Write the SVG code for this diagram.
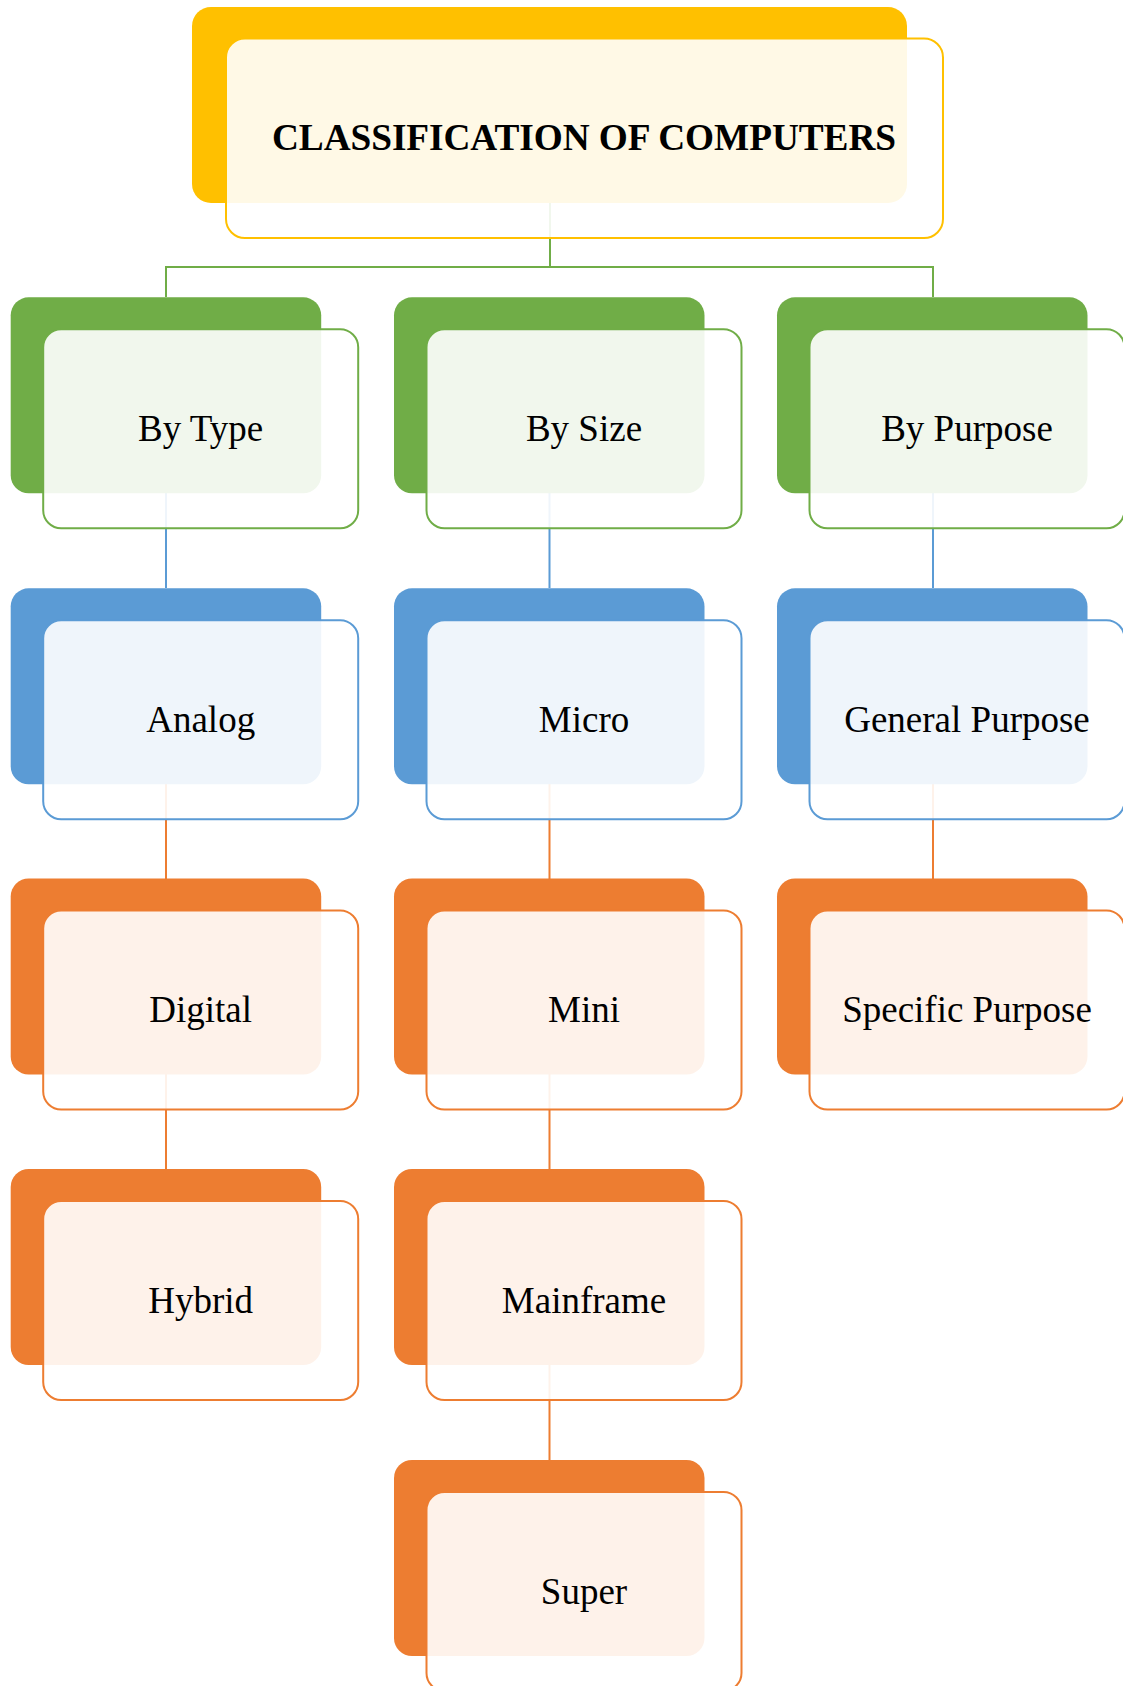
<svg xmlns="http://www.w3.org/2000/svg" width="1123" height="1686" viewBox="0 0 1123 1686">
<style>
.bk{stroke:none}
.fr{fill:#FFFFFF;fill-opacity:0.9;stroke-width:2}
.t{font-family:"Liberation Serif","Times New Roman",serif;font-size:37px;fill:#000;text-anchor:middle}
.tb{font-weight:bold;font-size:37.3px}
.cn{fill:none;stroke-width:2}
.gold .bk{fill:#FFC000}.gold .fr{stroke:#FFC000}
.green .bk{fill:#70AD47}.green .fr{stroke:#70AD47}
.blue .bk{fill:#5B9BD5}.blue .fr{stroke:#5B9BD5}
.orange .bk{fill:#ED7D31}.orange .fr{stroke:#ED7D31}
</style>
<rect width="1123" height="1686" fill="#FFFFFF"/>
<g id="connectors">
<path class="cn" stroke="#70AD47" d="M550,150 V267 M166,297 V267 H933 V297"/>
<path class="cn" stroke="#5B9BD5" d="M166,400 V588 M549.5,400 V588 M933,400 V588"/>
<path class="cn" stroke="#ED7D31" d="M166,690 V879 M549.5,690 V879 M933,690 V879"/>
<path class="cn" stroke="#ED7D31" d="M166,980 V1169 M549.5,980 V1169"/>
<path class="cn" stroke="#ED7D31" d="M549.5,1270 V1460"/>
</g>
<g id="title" class="gold">
<rect class="bk" x="192" y="7" width="715" height="196" rx="19"/>
<rect class="fr" x="226" y="38.5" width="717" height="199.5" rx="19"/>
<text class="t tb" x="584" y="150" textLength="624">CLASSIFICATION OF COMPUTERS</text>
</g>
<g id="by-type" class="green" transform="translate(10.7,297.3)">
<rect class="bk" width="310.5" height="196" rx="18"/><rect class="fr" x="32.5" y="32" width="315" height="199" rx="18"/>
<text class="t" x="190" y="144">By Type</text></g>
<g id="by-size" class="green" transform="translate(394,297.3)">
<rect class="bk" width="310.5" height="196" rx="18"/><rect class="fr" x="32.5" y="32" width="315" height="199" rx="18"/>
<text class="t" x="190" y="144">By Size</text></g>
<g id="by-purpose" class="green" transform="translate(777,297.3)">
<rect class="bk" width="310.5" height="196" rx="18"/><rect class="fr" x="32.5" y="32" width="315" height="199" rx="18"/>
<text class="t" x="190" y="144">By Purpose</text></g>
<g id="analog" class="blue" transform="translate(10.7,588.3)">
<rect class="bk" width="310.5" height="196" rx="18"/><rect class="fr" x="32.5" y="32" width="315" height="199" rx="18"/>
<text class="t" x="190" y="144">Analog</text></g>
<g id="micro" class="blue" transform="translate(394,588.3)">
<rect class="bk" width="310.5" height="196" rx="18"/><rect class="fr" x="32.5" y="32" width="315" height="199" rx="18"/>
<text class="t" x="190" y="144">Micro</text></g>
<g id="general-purpose" class="blue" transform="translate(777,588.3)">
<rect class="bk" width="310.5" height="196" rx="18"/><rect class="fr" x="32.5" y="32" width="315" height="199" rx="18"/>
<text class="t" x="190" y="144">General Purpose</text></g>
<g id="digital" class="orange" transform="translate(10.7,878.5)">
<rect class="bk" width="310.5" height="196" rx="18"/><rect class="fr" x="32.5" y="32" width="315" height="199" rx="18"/>
<text class="t" x="190" y="143.5">Digital</text></g>
<g id="mini" class="orange" transform="translate(394,878.5)">
<rect class="bk" width="310.5" height="196" rx="18"/><rect class="fr" x="32.5" y="32" width="315" height="199" rx="18"/>
<text class="t" x="190" y="143.5">Mini</text></g>
<g id="specific-purpose" class="orange" transform="translate(777,878.5)">
<rect class="bk" width="310.5" height="196" rx="18"/><rect class="fr" x="32.5" y="32" width="315" height="199" rx="18"/>
<text class="t" x="190" y="143.5">Specific Purpose</text></g>
<g id="hybrid" class="orange" transform="translate(10.7,1169)">
<rect class="bk" width="310.5" height="196" rx="18"/><rect class="fr" x="32.5" y="32" width="315" height="199" rx="18"/>
<text class="t" x="190" y="143.5">Hybrid</text></g>
<g id="mainframe" class="orange" transform="translate(394,1169)">
<rect class="bk" width="310.5" height="196" rx="18"/><rect class="fr" x="32.5" y="32" width="315" height="199" rx="18"/>
<text class="t" x="190" y="143.5">Mainframe</text></g>
<g id="super" class="orange" transform="translate(394,1460)">
<rect class="bk" width="310.5" height="196" rx="18"/><rect class="fr" x="32.5" y="32" width="315" height="199" rx="18"/>
<text class="t" x="190" y="143.5">Super</text></g>
</svg>
